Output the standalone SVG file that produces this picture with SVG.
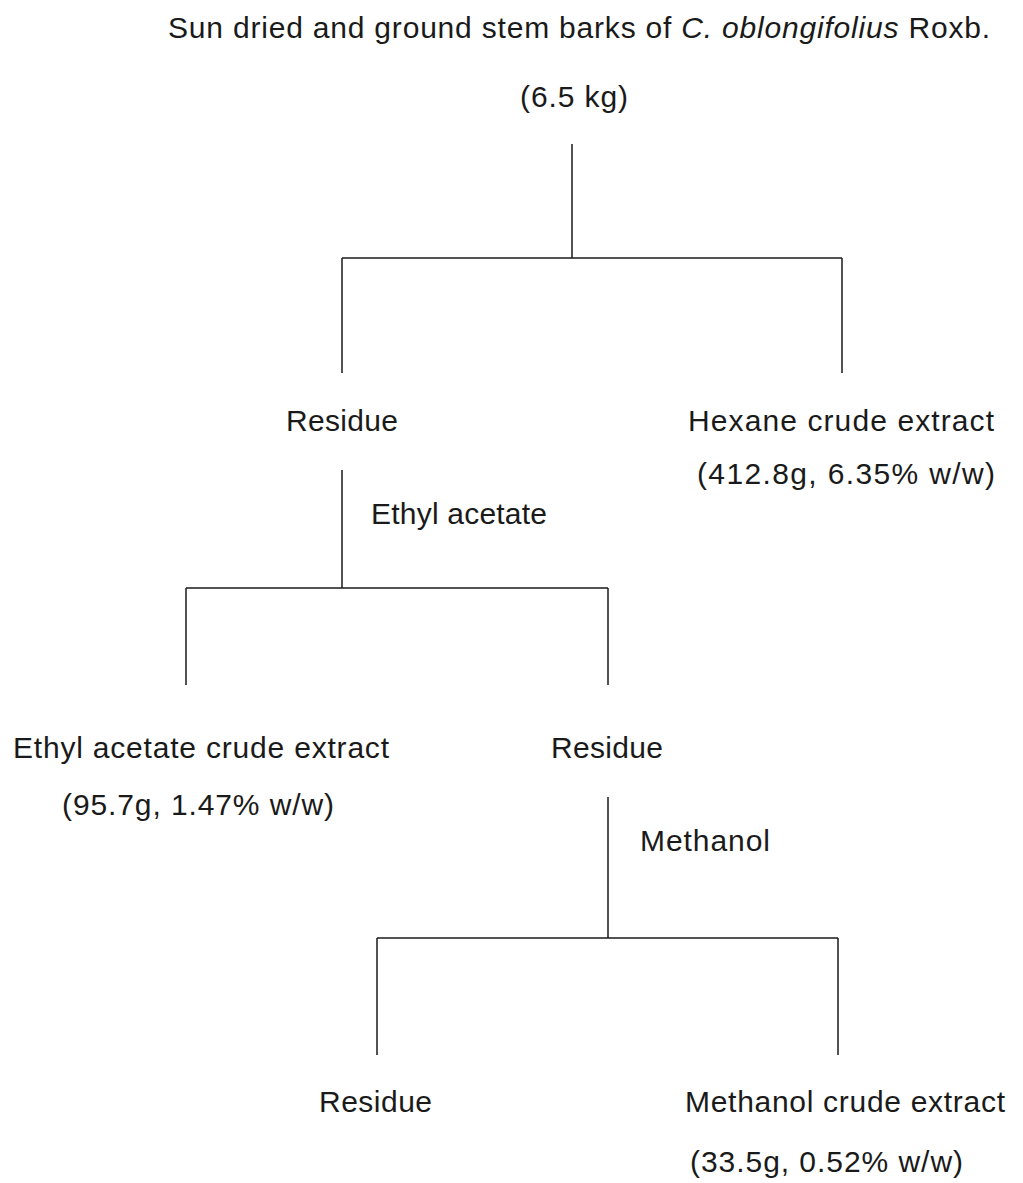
<svg xmlns="http://www.w3.org/2000/svg" width="1023" height="1183" viewBox="0 0 1023 1183">
<style>
text{font-family:"Liberation Sans",Arial,sans-serif;font-size:30px;fill:#1a1a1a}
.c line{stroke:#1a1a1a;stroke-width:1.5;fill:none}
</style>
<rect width="1023" height="1183" fill="#fff"/>
<g id="start">
<text x="168" y="38" textLength="822" lengthAdjust="spacing">Sun dried and ground stem barks of <tspan font-style="italic">C. oblongifolius</tspan> Roxb.</text>
<text x="520" y="107" textLength="108" lengthAdjust="spacing">(6.5 kg)</text>
</g>
<g id="residue1"><text x="286" y="431" textLength="112" lengthAdjust="spacing">Residue</text></g>
<g id="hexane">
<text x="688" y="431" textLength="306" lengthAdjust="spacing">Hexane crude extract</text>
<text x="697" y="484" textLength="298" lengthAdjust="spacing">(412.8g, 6.35% w/w)</text>
</g>
<g id="label-ea"><text x="371" y="524" textLength="176" lengthAdjust="spacing">Ethyl acetate</text></g>
<g id="ethylacetate">
<text x="13" y="758" textLength="376" lengthAdjust="spacing">Ethyl acetate crude extract</text>
<text x="62" y="815" textLength="272" lengthAdjust="spacing">(95.7g, 1.47% w/w)</text>
</g>
<g id="residue2"><text x="551" y="758" textLength="112" lengthAdjust="spacing">Residue</text></g>
<g id="label-meoh"><text x="640" y="851" textLength="130" lengthAdjust="spacing">Methanol</text></g>
<g id="residue3"><text x="319" y="1112" textLength="113" lengthAdjust="spacing">Residue</text></g>
<g id="methanol">
<text x="685" y="1112" textLength="320" lengthAdjust="spacing">Methanol crude extract</text>
<text x="690" y="1172" textLength="273" lengthAdjust="spacing">(33.5g, 0.52% w/w)</text>
</g>
<g id="connectors" class="c">
<line x1="572" y1="144" x2="572" y2="258"/>
<line x1="342" y1="258" x2="842" y2="258"/>
<line x1="342" y1="258" x2="342" y2="373"/>
<line x1="842" y1="258" x2="842" y2="373"/>
<line x1="342" y1="470" x2="342" y2="588"/>
<line x1="186" y1="588" x2="608" y2="588"/>
<line x1="186" y1="588" x2="186" y2="685"/>
<line x1="608" y1="588" x2="608" y2="685"/>
<line x1="608" y1="797" x2="608" y2="938"/>
<line x1="377" y1="938" x2="838" y2="938"/>
<line x1="377" y1="938" x2="377" y2="1055"/>
<line x1="838" y1="938" x2="838" y2="1055"/>
</g>
</svg>
